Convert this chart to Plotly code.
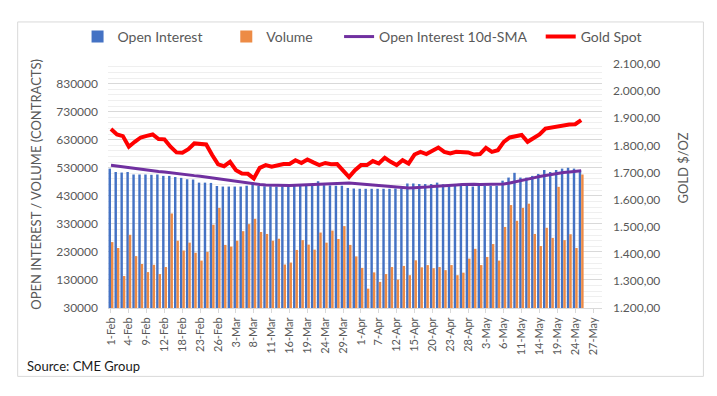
import plotly.graph_objects as go

dates = [
    "1-Feb", "2-Feb", "3-Feb", "4-Feb", "5-Feb", "8-Feb", "9-Feb", "10-Feb", "11-Feb", "12-Feb",
    "16-Feb", "17-Feb", "18-Feb", "19-Feb", "22-Feb", "23-Feb", "24-Feb", "25-Feb", "26-Feb",
    "1-Mar", "2-Mar", "3-Mar", "4-Mar", "5-Mar", "8-Mar", "9-Mar", "10-Mar", "11-Mar", "12-Mar",
    "15-Mar", "16-Mar", "17-Mar", "18-Mar", "19-Mar", "22-Mar", "23-Mar", "24-Mar", "25-Mar",
    "26-Mar", "29-Mar", "30-Mar", "31-Mar",
    "1-Apr", "5-Apr", "6-Apr", "7-Apr", "8-Apr", "9-Apr", "12-Apr", "13-Apr", "14-Apr", "15-Apr",
    "16-Apr", "19-Apr", "20-Apr", "21-Apr", "22-Apr", "23-Apr", "26-Apr", "27-Apr", "28-Apr",
    "29-Apr", "30-Apr",
    "3-May", "4-May", "5-May", "6-May", "7-May", "10-May", "11-May", "12-May", "13-May", "14-May",
    "17-May", "18-May", "19-May", "20-May", "21-May", "24-May", "25-May", "26-May", "27-May", "28-May",
]

open_interest = [
    527000, 515000, 513000, 515000, 506000, 506000, 506000, 505000, 506000, 501000,
    501000, 497000, 494000, 489000, 488000, 477000, 477000, 476000, 465000, 463000,
    463000, 463000, 463000, 466000, 479000, 465000, 464000, 464000, 463000, 464000,
    466000, 467000, 466000, 468000, 467000, 482000, 468000, 467000, 466000, 466000,
    458000, 456000, 455000, 455000, 455000, 455000, 455000, 455000, 456000, 456000,
    474000, 474000, 472000, 472000, 472000, 477000, 471000, 469000, 469000, 468000,
    466000, 463000, 465000, 465000, 465000, 466000, 484000, 495000, 512000, 495000,
    495000, 501000, 508000, 522000, 515000, 522000, 527000, 530000, 527000, 522000,
]

volume = [
    265000, 244000, 144000, 291000, 215000, 187000, 158000, 184000, 151000, 176000,
    367000, 270000, 235000, 263000, 227000, 199000, 230000, 327000, 387000, 255000,
    249000, 270000, 304000, 329000, 348000, 301000, 294000, 270000, 277000, 185000,
    192000, 237000, 272000, 256000, 238000, 299000, 263000, 306000, 276000, 322000,
    255000, 214000, 173000, 99000, 157000, 123000, 151000, 176000, 131000, 180000,
    147000, 200000, 175000, 183000, 172000, 176000, 165000, 183000, 147000, 156000,
    206000, 241000, 183000, 212000, 258000, 199000, 319000, 397000, 341000, 387000,
    402000, 294000, 251000, 316000, 280000, 462000, 272000, 293000, 244000, 506000,
]

oi_sma = [
    539000, 536000, 534000, 531000, 528000, 525000, 522000, 520000, 517000, 515000,
    512000, 510000, 507000, 505000, 502000, 500000, 497000, 494000, 491000, 489000,
    486000, 482000, 478000, 475000, 472000, 470000, 469000, 468000, 467000, 467000,
    467000, 468000, 469000, 470000, 471000, 472000, 473000, 474000, 475000, 476000,
    476000, 474000, 472000, 470000, 468000, 466000, 464000, 462000, 460000, 458000,
    458000, 459000, 459000, 461000, 463000, 465000, 467000, 468000, 469000, 470000,
    471000, 471000, 470000, 470000, 470000, 470000, 472000, 476000, 480000, 484000,
    489000, 494000, 499000, 503000, 507000, 510000, 513000, 515000, 517000, 519000,
]

gold = [
    1860, 1840, 1834, 1795, 1813, 1829, 1835, 1840, 1823, 1822,
    1795, 1774, 1773, 1786, 1807, 1805, 1803, 1764, 1730, 1723,
    1739, 1708, 1696, 1695, 1678, 1717, 1727, 1721, 1727, 1731,
    1731, 1745, 1735, 1748, 1737, 1727, 1735, 1730, 1731, 1705,
    1683, 1708, 1727, 1727, 1742, 1733, 1754, 1739, 1727, 1745,
    1733, 1766, 1776, 1768, 1782, 1792, 1776, 1770, 1776, 1774,
    1774, 1766, 1768, 1791, 1776, 1782, 1813, 1829, 1834, 1838,
    1813, 1825, 1840, 1862, 1866, 1868, 1875, 1877, 1878, 1893,
]

left_ticks = [30000, 130000, 230000, 330000, 430000, 530000, 630000, 730000, 830000]
left_labels = ["30000", "130000", "230000", "330000", "430000", "530000", "630000", "730000", "830000"]
right_ticks = [1200, 1300, 1400, 1500, 1600, 1700, 1800, 1900, 2000, 2100]
right_labels = ["1.200,00", "1.300,00", "1.400,00", "1.500,00", "1.600,00",
                "1.700,00", "1.800,00", "1.900,00", "2.000,00", "2.100,00"]

FONT = "Lato"
TXT = "#595959"
n = len(open_interest)

fig = go.Figure()
fig.add_trace(go.Bar(x=dates[:n], y=open_interest, name="Open Interest", showlegend=True,
                     marker=dict(color="#4472C4", line=dict(width=0)), legend="legend"))
fig.add_trace(go.Bar(x=dates[:n], y=volume, name="Volume", showlegend=True,
                     marker=dict(color="#ED8B45", line=dict(width=0)), legend="legend2"))
fig.add_trace(go.Scatter(x=dates[:n], y=oi_sma, name="Open Interest 10d-SMA", mode="lines",
                         showlegend=True,
                         line=dict(color="#7030A0", width=3), legend="legend3"))
fig.add_trace(go.Scatter(x=dates[:n], y=gold, name="Gold Spot", mode="lines", yaxis="y2",
                         showlegend=True,
                         line=dict(color="#FF0000", width=4), legend="legend4"))

L, R, T, B = 107.5, 602.4, 64.0, 307.7
W, H = 717, 396
pw, ph = R - L, B - T

def px(x):
    return (x - L) / pw

def py(y):
    return (B - y) / ph

leg_common = dict(orientation="h", yanchor="middle", xanchor="left", y=py(37),
                  font=dict(family=FONT, size=14, color=TXT), bgcolor="rgba(0,0,0,0)",
                  borderwidth=0, visible=True)

fig.update_layout(
    width=W, height=H,
    showlegend=True,
    margin=dict(l=L, r=W - R, t=T, b=H - B, autoexpand=False),
    paper_bgcolor="white", plot_bgcolor="white",
    font=dict(family=FONT, color=TXT),
    barmode="group", bargap=0.18, bargroupgap=0.0,
    legend=dict(x=px(77), **leg_common),
    legend2=dict(x=px(226), **leg_common),
    legend3=dict(x=px(339), **leg_common),
    legend4=dict(x=px(541), **leg_common),
    xaxis=dict(
        type="category", categoryorder="array", categoryarray=dates,
        range=[-0.5, len(dates) - 0.5],
        tickmode="array", tickvals=dates[::3], ticktext=dates[::3],
        tickangle=-90, tickfont=dict(family=FONT, size=11, color=TXT),
        showline=True, linecolor="#D9D9D9", linewidth=1,
        ticks="outside", ticklen=4, tickcolor="#D9D9D9",
        showgrid=False, zeroline=False,
    ),
    yaxis=dict(
        range=[30000, 900000], tickmode="array", tickvals=left_ticks, ticktext=left_labels,
        tickfont=dict(family=FONT, size=12, color=TXT), ticklabelstandoff=9,
        showgrid=True, gridcolor="#D9D9D9", gridwidth=1, zeroline=False, showline=False,
        minor=dict(tickmode="linear", tick0=30000, dtick=20000, showgrid=True,
                   gridcolor="#EFEFEF", gridwidth=1),
    ),
    yaxis2=dict(
        overlaying="y", side="right", range=[1200, 2100],
        tickmode="array", tickvals=right_ticks, ticktext=right_labels,
        tickfont=dict(family=FONT, size=12, color=TXT), ticklabelstandoff=10,
        showgrid=False, zeroline=False, showline=False,
    ),
    shapes=[dict(type="rect", xref="paper", yref="paper",
                 x0=px(17), x1=px(704), y0=py(376), y1=py(22),
                 line=dict(color="#D9D9D9", width=1), fillcolor="rgba(0,0,0,0)", layer="below")],
    annotations=[
        dict(text="OPEN INTEREST / VOLUME (CONTRACTS)", xref="paper", yref="paper",
             x=px(36), y=py(184), textangle=-90, showarrow=False,
             font=dict(family=FONT, size=13, color=TXT), xanchor="center", yanchor="middle"),
        dict(text="GOLD $/OZ", xref="paper", yref="paper",
             x=px(684), y=py(168), textangle=-90, showarrow=False,
             font=dict(family=FONT, size=13, color=TXT), xanchor="center", yanchor="middle"),
        dict(text="Source: CME Group", xref="paper", yref="paper",
             x=px(24), y=py(366), showarrow=False, xanchor="left", yanchor="middle",
             font=dict(family=FONT, size=13, color="#1A1A1A")),
    ],
)

fig.write_html("out.html", config={"displayModeBar": False},
               post_script="document.body.style.margin='0px';")
